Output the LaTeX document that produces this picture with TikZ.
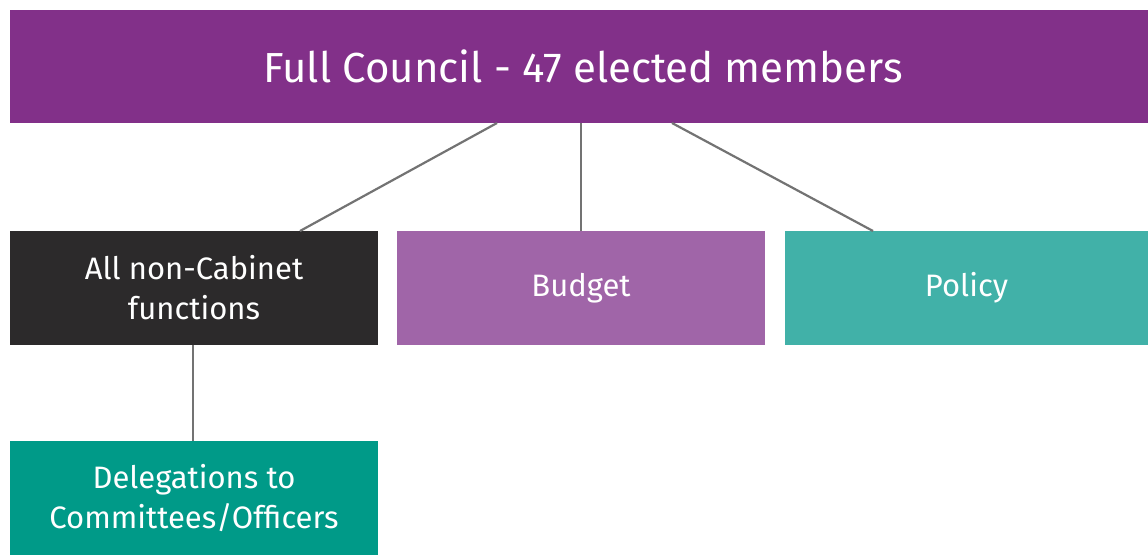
\documentclass[tikz,border=0pt]{standalone}
\usepackage{fontspec}
\setmainfont{Fira Sans}
\definecolor{topc}{HTML}{823089}
\definecolor{darkc}{HTML}{2C2A2B}
\definecolor{budc}{HTML}{A065A8}
\definecolor{polc}{HTML}{41B1A8}
\definecolor{delc}{HTML}{009A88}
\definecolor{linec}{HTML}{737373}
\begin{document}
\begin{tikzpicture}[x=1pt,y=-1pt,
  box/.style={inner sep=0pt, outer sep=0pt, text=white, align=center, minimum height=113.5pt, font=\fontsize{31}{40}\selectfont},
  conn/.style={draw=linec, line width=2.2pt}]
\useasboundingbox (0,0) rectangle (1148,554);
\node[box, fill=topc, minimum width=1138pt, font=\fontsize{42}{50}\selectfont] (full) at (579,66.25) {\hspace*{8pt}Full Council - 47 elected members};
\node[box, fill=darkc, minimum width=368pt] (non) at (194,288) {All non-Cabinet\\functions};
\node[box, fill=budc, minimum width=368pt] (bud) at (581,288) {Budget};
\node[box, fill=polc, minimum width=363pt] (pol) at (966.5,288) {Policy};
\node[box, fill=delc, minimum width=368pt] (del) at (194,498) {Delegations to\\Committees/Officers};
\coordinate (a1) at (497,123);
\coordinate (a2) at (581,123);
\coordinate (a3) at (672,123);
\coordinate (b1) at (300,231);
\coordinate (b3) at (873,231);
\draw[conn] (a1) -- (b1);
\draw[conn] (a2) -- (bud.north);
\draw[conn] (a3) -- (b3);
\draw[conn] (non.south -| 193,0) -- (del.north -| 193,0);
\end{tikzpicture}
\end{document}
